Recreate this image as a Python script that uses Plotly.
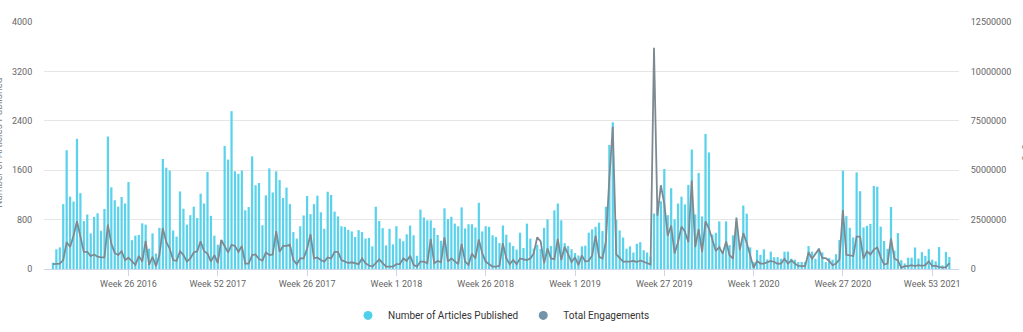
import plotly.graph_objects as go

# Weekly number of articles published (left axis)
articles = [
    105, 320, 352, 1052, 1925, 1173, 1094, 2109, 1230, 778,
    883, 578, 847, 904, 620, 973, 2146, 1325, 1115, 1010,
    1168, 1062, 1409, 468, 542, 552, 741, 720, 330, 578,
    252, 668, 1783, 1641, 1594, 626, 526, 1257, 978, 720,
    873, 1010, 826, 1220, 1062, 1573, 862, 542, 394, 470,
    1994, 1773, 2557, 1583, 1541, 1594, 952, 1005, 1825, 1357,
    1394, 710, 1194, 1631, 1241, 1583, 1441, 1152, 1320, 1052,
    600, 494, 694, 868, 1184, 889, 1052, 1189, 920, 652,
    1252, 1199, 931, 852, 694, 684, 636, 610, 520, 631,
    600, 494, 505, 368, 1010, 778, 663, 384, 652, 400,
    694, 494, 452, 563, 705, 547, 216, 963, 836, 789,
    789, 668, 552, 458, 984, 810, 847, 736, 694, 999,
    657, 726, 726, 673, 1073, 610, 694, 684, 547, 520,
    421, 705, 557, 431, 373, 316, 589, 342, 736, 494,
    331, 394, 326, 668, 805, 373, 952, 1062, 789, 420,
    373, 321, 260, 220, 368, 379, 589, 642, 684, 752,
    615, 1010, 2009, 2377, 800, 626, 510, 331, 368, 268,
    410, 436, 305, 268, 200, 900, 1000, 1100, 1620, 873,
    1310, 805, 1062, 1173, 1047, 1362, 1936, 884, 1557, 852,
    2188, 1888, 560, 588, 772, 283, 772, 388, 546, 772,
    400, 1029, 898, 352, 115, 310, 231, 320, 157, 283,
    194, 194, 168, 283, 283, 168, 152, 115, 115, 115,
    373, 283, 168, 336, 270, 115, 178, 152, 241, 472,
    1594, 857, 668, 512, 1565, 1262, 675, 700, 733, 1345,
    1334, 688, 455, 328, 1006, 300, 583, 145, 92, 184,
    184, 350, 171, 276, 215, 323, 152, 126, 357, 60,
    278, 197,
]

# Weekly total engagements (right axis)
engagements = [
    250000, 280000, 280000, 460000, 1360000, 1120000, 1690000, 2420000, 1690000, 870000,
    870000, 660000, 740000, 625000, 590000, 590000, 2250000, 1280000, 820000, 710000,
    905000, 460000, 575000, 380000, 215000, 660000, 380000, 1430000, 215000, 625000,
    150000, 710000, 2070000, 1360000, 1040000, 460000, 410000, 905000, 710000, 380000,
    540000, 840000, 905000, 1400000, 905000, 790000, 380000, 710000, 300000, 1480000,
    1170000, 840000, 1230000, 1170000, 870000, 1170000, 280000, 280000, 710000, 740000,
    510000, 430000, 840000, 710000, 740000, 1920000, 870000, 1170000, 1170000, 1230000,
    460000, 250000, 540000, 540000, 1040000, 1760000, 540000, 590000, 460000, 380000,
    590000, 540000, 870000, 870000, 460000, 380000, 300000, 345000, 300000, 250000,
    540000, 300000, 180000, 130000, 300000, 490000, 300000, 130000, 130000, 130000,
    250000, 250000, 540000, 410000, 675000, 215000, 130000, 380000, 380000, 300000,
    1530000, 300000, 410000, 345000, 1610000, 380000, 540000, 380000, 250000, 1280000,
    380000, 215000, 790000, 540000, 1500000, 790000, 380000, 250000, 130000, 130000,
    165000, 1300000, 540000, 250000, 460000, 250000, 540000, 490000, 460000, 540000,
    790000, 1610000, 1400000, 300000, 1040000, 540000, 500000, 1530000, 460000, 1130000,
    700000, 360000, 600000, 200000, 690000, 380000, 420000, 690000, 1690000, 620000,
    540000, 1400000, 4600000, 7200000, 750000, 590000, 380000, 380000, 380000, 420000,
    360000, 440000, 380000, 300000, 230000, 11200000, 2700000, 4240000, 3300000, 1690000,
    2200000, 790000, 1360000, 2150000, 1900000, 1360000, 4480000, 1110000, 2020000, 860000,
    2420000, 2050000, 1500000, 920000, 1110000, 780000, 1400000, 700000, 530000, 2600000,
    960000, 1820000, 1320000, 700000, 70000, 410000, 280000, 280000, 360000, 410000,
    360000, 270000, 280000, 525000, 280000, 443000, 280000, 160000, 150000, 150000,
    853000, 525000, 771000, 1020000, 560000, 558000, 410000, 197000, 280000, 492000,
    2990000, 722000, 690000, 660000, 1640000, 1640000, 525000, 902000, 738000, 984000,
    1100000, 607000, 230000, 279000, 1540000, 525000, 443000, 66000, 150000, 150000,
    197000, 150000, 197000, 160000, 197000, 394000, 160000, 160000, 115000, 80000,
    100000, 300000,
]

week_index = list(range(len(articles)))

tick_positions = [22, 48, 74, 100, 126, 152, 178, 204, 230, 256]
tick_labels = ["Week 26 2016", "Week 52 2017", "Week 26 2017", "Week 1 2018",
               "Week 26 2018", "Week 1 2019", "Week 27 2019", "Week 1 2020",
               "Week 27 2020", "Week 53 2021"]

left_ticks = [0, 800, 1600, 2400, 3200, 4000]
right_ticks = [0, 2500000, 5000000, 7500000, 10000000, 12500000]

BAR_COLOR = "#5ad2eb"
LINE_COLOR = "#7e8a92"
FONT = "Roboto"
TICK_COLOR = "#666666"

fig = go.Figure()
fig.add_trace(go.Bar(
    x=week_index, y=articles, yaxis="y",
    marker=dict(color=BAR_COLOR, line=dict(width=0)),
    showlegend=False, name="Number of Articles Published",
))
fig.add_trace(go.Scatter(
    x=week_index, y=engagements, yaxis="y2", mode="lines",
    line=dict(color=LINE_COLOR, width=1.8),
    showlegend=False, name="Total Engagements",
))
# legend entries with round markers
fig.add_trace(go.Scatter(x=[None], y=[None], mode="markers",
                         marker=dict(color="#4fd0ea", size=9),
                         name="Number of Articles Published"))
fig.add_trace(go.Scatter(x=[None], y=[None], mode="markers",
                         marker=dict(color="#7393a7", size=9),
                         name="Total Engagements"))

fig.update_layout(
    width=1023, height=332,
    margin=dict(l=41, r=60, t=22, b=58),
    paper_bgcolor="white", plot_bgcolor="white",
    font=dict(family=FONT, size=9, color=TICK_COLOR),
    bargap=0.35,
    xaxis=dict(
        range=[-2.6, 263.8], tickmode="array",
        tickvals=tick_positions, ticktext=tick_labels,
        showgrid=False, zeroline=False,
        showline=True, linecolor="#ccd6eb", linewidth=1,
        ticks="outside", ticklen=6, tickcolor="#ccd6eb",
        tickfont=dict(family=FONT, size=9, color=TICK_COLOR),
    ),
    yaxis=dict(
        range=[0, 4000], tickmode="array", tickvals=left_ticks,
        ticktext=[str(v) for v in left_ticks],
        showgrid=True, gridcolor="#e6e6e6", gridwidth=1,
        zeroline=False, showline=False,
        ticks="outside", ticklen=9, tickcolor="rgba(0,0,0,0)",
        tickfont=dict(family=FONT, size=9, color=TICK_COLOR),
    ),
    yaxis2=dict(
        range=[0, 12500000], overlaying="y", side="right",
        tickmode="array", tickvals=right_ticks,
        ticktext=[str(v) for v in right_ticks],
        showgrid=False, zeroline=False, showline=False,
        ticks="outside", ticklen=9, tickcolor="rgba(0,0,0,0)",
        tickfont=dict(family=FONT, size=9, color=TICK_COLOR),
    ),
    legend=dict(
        orientation="h", x=0.5, xanchor="center",
        yref="container", y=0.05, yanchor="middle",
        font=dict(family=FONT, size=10, color="#333333"),
        bgcolor="rgba(0,0,0,0)",
    ),
    annotations=[
        dict(text="Number of Articles Published", xref="paper", yref="paper",
             x=-0.0505, y=0.51, xanchor="center", yanchor="middle",
             textangle=-90, showarrow=False,
             font=dict(family=FONT, size=10, color="#888888")),
        dict(text="Total Engagements", xref="paper", yref="paper",
             x=1.0745, y=0.476, xanchor="center", yanchor="middle",
             textangle=90, showarrow=False,
             font=dict(family=FONT, size=10, color="#888888")),
    ],
)

fig.write_html("out.html")
